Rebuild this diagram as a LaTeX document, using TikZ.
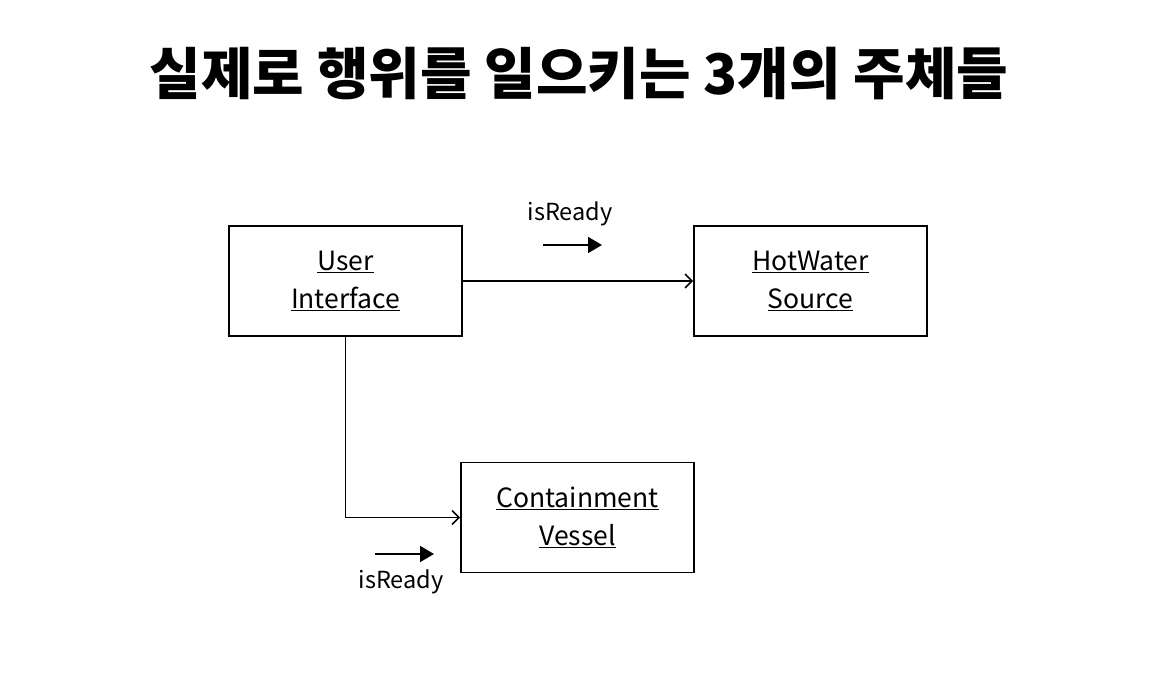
\documentclass[tikz,border=0pt]{standalone}
\usepackage{fontspec}
\setmainfont{Noto Sans CJK KR}
\usetikzlibrary{arrows.meta}

\newcommand{\ulword}[1]{\underline{#1}}

\begin{document}
\begin{tikzpicture}[x=1pt,y=-1pt,line width=1.8pt,
  actor/.style={draw,minimum width=233pt,minimum height=110pt,inner sep=0pt,
    align=center,font=\fontsize{26.5}{38}\selectfont},
  msg/.style={font=\fontsize{23.5}{28}\selectfont},
  flow/.style={-{Straight Barb[length=7pt,width=14pt,line width=1.5pt]}},
  msgarrow/.style={-{Triangle[length=14pt,width=16pt]},line width=1.8pt}]
\useasboundingbox (0,0) rectangle (1176,676);
% ---- title ----
\node (title) at (579,74) {\fontsize{56}{66}\selectfont\bfseries 실제로 행위를 일으키는 3개의 주체들};
% ---- the three actors ----
\node[actor] (ui)  at (345.5,281)  {\ulword{User}\\\ulword{Interface}};
\node[actor] (hws) at (810.5,281)  {\ulword{HotWater}\\\ulword{Source}};
\node[actor] (cv)  at (577.5,517.5) {\ulword{Containment}\\\ulword{Vessel}};
% ---- connectors ----
\draw[flow] (ui.east) -- (hws.west);
\draw[flow] (ui.south) |- (cv.west);
% ---- isReady messages ----
\coordinate (m1a) at (543,245);
\coordinate (m1b) at (602,245);
\draw[msgarrow] (m1a) -- (m1b);
\node[msg] (m1) at (570,214) {isReady};
\coordinate (m2a) at (375,554);
\coordinate (m2b) at (434,554);
\draw[msgarrow] (m2a) -- (m2b);
\node[msg] (m2) at (401,582) {isReady};
\end{tikzpicture}
\end{document}
